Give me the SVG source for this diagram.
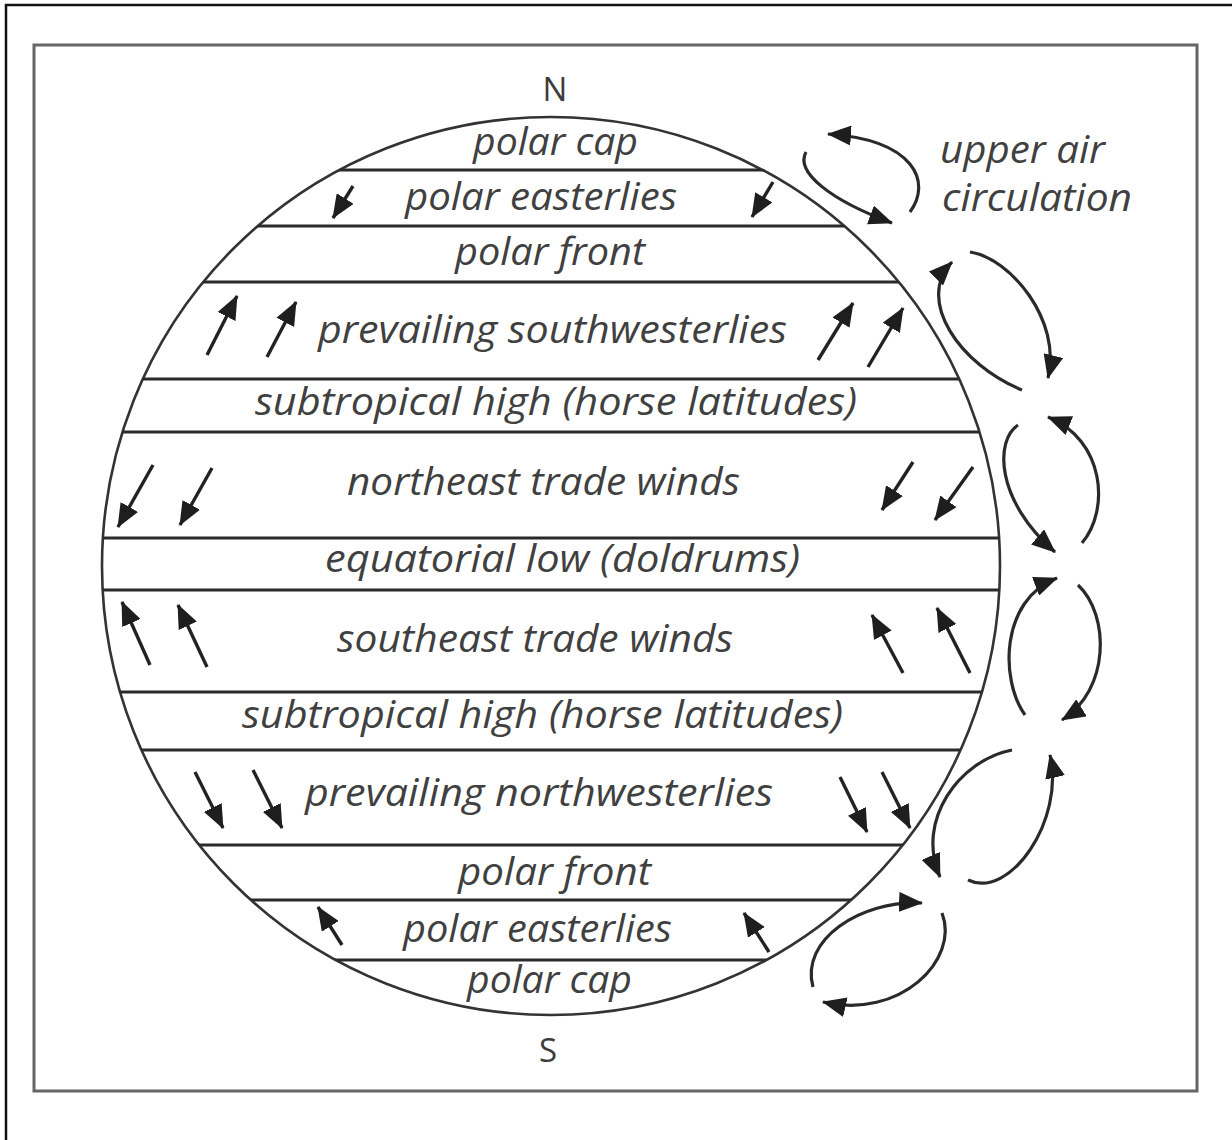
<svg xmlns="http://www.w3.org/2000/svg" width="1232" height="1140" viewBox="0 0 1232 1140">
<style>
.lbl{font-family:"Open Sans","Liberation Sans",sans-serif;font-style:italic;font-size:38px;fill:#404040}
.pole{font-family:"Open Sans","Liberation Sans",sans-serif;font-size:33px;fill:#3c3c3c}
.band{stroke:#2a2a2a;stroke-width:3;fill:none}
.wind{stroke:#222;stroke-width:3.4;fill:none;marker-end:url(#ah)}
.circ{stroke:#2a2a2a;stroke-width:3.2;fill:none;marker-end:url(#ah)}
</style>
<defs>
<marker id="ah" viewBox="0 0 24 20" refX="23" refY="10" markerWidth="24" markerHeight="20" markerUnits="userSpaceOnUse" orient="auto">
<path d="M0,0 L24,10 L0,20 z" fill="#1e1e1e"/>
</marker>
<clipPath id="globe"><circle cx="551" cy="566" r="449"/></clipPath>
</defs>
<rect width="1232" height="1140" fill="#fff"/>
<g id="frame">
<path d="M6,1140 L6,5 L1232,5" fill="none" stroke="#111" stroke-width="2.5"/>
<rect x="34" y="45" width="1163" height="1046" fill="none" stroke="#666" stroke-width="3"/>
</g>
<g id="globe-outline">
<circle cx="551" cy="566" r="449" fill="none" stroke="#333" stroke-width="2.6"/>
<text class="pole" x="555" y="101" text-anchor="middle">N</text>
<text class="pole" x="548" y="1062" text-anchor="middle">S</text>
</g>
<g id="band-lines" clip-path="url(#globe)" class="band">
<line x1="90" y1="170" x2="1010" y2="170"/>
<line x1="90" y1="226" x2="1010" y2="226"/>
<line x1="90" y1="282" x2="1010" y2="282"/>
<line x1="90" y1="379" x2="1010" y2="379"/>
<line x1="90" y1="432" x2="1010" y2="432"/>
<line x1="90" y1="538" x2="1010" y2="538"/>
<line x1="90" y1="590" x2="1010" y2="590"/>
<line x1="90" y1="692" x2="1010" y2="692"/>
<line x1="90" y1="750" x2="1010" y2="750"/>
<line x1="90" y1="845" x2="1010" y2="845"/>
<line x1="90" y1="900" x2="1010" y2="900"/>
<line x1="90" y1="960" x2="1010" y2="960"/>
</g>
<g id="n-polar-cap"><text class="lbl" x="473" y="155" textLength="165" lengthAdjust="spacingAndGlyphs">polar cap</text></g>
<g id="n-polar-easterlies">
<text class="lbl" x="405" y="210" textLength="272" lengthAdjust="spacingAndGlyphs">polar easterlies</text>
<line class="wind" x1="353" y1="186" x2="333" y2="218"/>
<line class="wind" x1="773" y1="182" x2="752" y2="217"/>
</g>
<g id="n-polar-front"><text class="lbl" x="455" y="265" textLength="190" lengthAdjust="spacingAndGlyphs">polar front</text></g>
<g id="prevailing-southwesterlies">
<text class="lbl" x="318" y="343" textLength="469" lengthAdjust="spacingAndGlyphs">prevailing southwesterlies</text>
<line class="wind" x1="207" y1="355" x2="237" y2="296"/>
<line class="wind" x1="267" y1="357" x2="296" y2="302"/>
<line class="wind" x1="818" y1="360" x2="853" y2="303"/>
<line class="wind" x1="868" y1="367" x2="903" y2="308"/>
</g>
<g id="n-subtropical-high"><text class="lbl" x="255" y="415" textLength="602" lengthAdjust="spacingAndGlyphs">subtropical high (horse latitudes)</text></g>
<g id="northeast-trade-winds">
<text class="lbl" x="347" y="495" textLength="393" lengthAdjust="spacingAndGlyphs">northeast trade winds</text>
<line class="wind" x1="153" y1="465" x2="118" y2="527"/>
<line class="wind" x1="212" y1="468" x2="180" y2="525"/>
<line class="wind" x1="913" y1="462" x2="882" y2="510"/>
<line class="wind" x1="973" y1="467" x2="935" y2="520"/>
</g>
<g id="equatorial-low"><text class="lbl" x="325" y="572" textLength="475" lengthAdjust="spacingAndGlyphs">equatorial low (doldrums)</text></g>
<g id="southeast-trade-winds">
<text class="lbl" x="337" y="652" textLength="396" lengthAdjust="spacingAndGlyphs">southeast trade winds</text>
<line class="wind" x1="150" y1="665" x2="122" y2="602"/>
<line class="wind" x1="207" y1="667" x2="178" y2="605"/>
<line class="wind" x1="903" y1="673" x2="872" y2="615"/>
<line class="wind" x1="970" y1="673" x2="937" y2="608"/>
</g>
<g id="s-subtropical-high"><text class="lbl" x="242" y="728" textLength="601" lengthAdjust="spacingAndGlyphs">subtropical high (horse latitudes)</text></g>
<g id="prevailing-northwesterlies">
<text class="lbl" x="305" y="806" textLength="468" lengthAdjust="spacingAndGlyphs">prevailing northwesterlies</text>
<line class="wind" x1="195" y1="772" x2="223" y2="828"/>
<line class="wind" x1="253" y1="770" x2="282" y2="828"/>
<line class="wind" x1="840" y1="777" x2="867" y2="832"/>
<line class="wind" x1="882" y1="772" x2="910" y2="828"/>
</g>
<g id="s-polar-front"><text class="lbl" x="458" y="885" textLength="193" lengthAdjust="spacingAndGlyphs">polar front</text></g>
<g id="s-polar-easterlies">
<text class="lbl" x="403" y="942" textLength="269" lengthAdjust="spacingAndGlyphs">polar easterlies</text>
<line class="wind" x1="342" y1="945" x2="318" y2="907"/>
<line class="wind" x1="769" y1="952" x2="744" y2="913"/>
</g>
<g id="s-polar-cap"><text class="lbl" x="467" y="993" textLength="165" lengthAdjust="spacingAndGlyphs">polar cap</text></g>
<g id="upper-air-label">
<text class="lbl" x="940" y="163" textLength="165" lengthAdjust="spacingAndGlyphs">upper air</text>
<text class="lbl" x="942" y="211" textLength="190" lengthAdjust="spacingAndGlyphs">circulation</text>
</g>
<g id="connectors">
<path class="circ" d="M910,212 C932,182 915,140 828,134"/>
<path class="circ" d="M806,152 C795,172 830,200 892,223"/>
<path class="circ" d="M1022,390 C960,365 915,300 952,262"/>
<path class="circ" d="M970,252 C1010,258 1062,320 1048,378"/>
<path class="circ" d="M1018,425 C995,440 995,500 1055,552"/>
<path class="circ" d="M1082,543 C1110,510 1105,440 1048,417"/>
<path class="circ" d="M1025,715 C1000,680 1000,600 1057,578"/>
<path class="circ" d="M1078,585 C1110,615 1110,690 1062,720"/>
<path class="circ" d="M1012,750 C960,760 915,820 940,877"/>
<path class="circ" d="M968,880 C1010,900 1065,820 1050,755"/>
<path class="circ" d="M813,987 C800,940 860,900 922,903"/>
<path class="circ" d="M942,913 C960,960 900,1020 823,1002"/>
</g>
</svg>
